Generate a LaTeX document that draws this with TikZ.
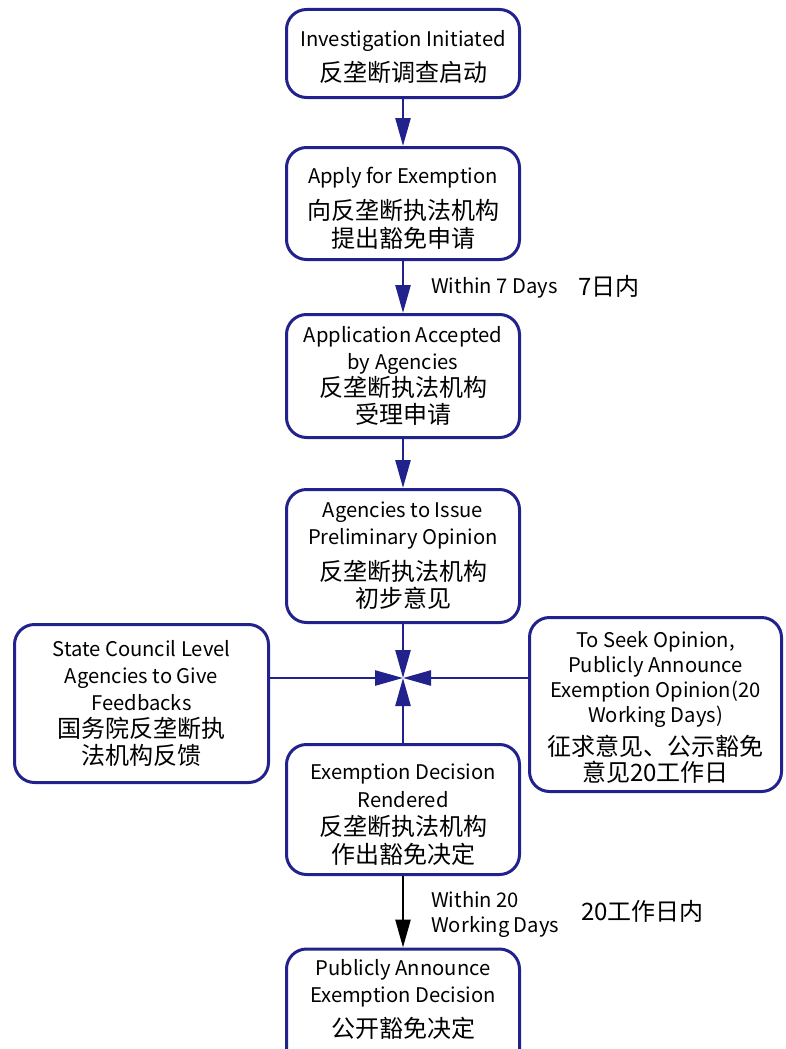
\documentclass[tikz,border=0pt]{standalone}
\usepackage{fontspec}
\setmainfont{Noto Sans CJK SC}
\usetikzlibrary{arrows.meta}
\definecolor{boxblue}{RGB}{34,34,140}
\newcommand{\zh}[1]{{\fontsize{24}{27}\selectfont #1}}
\newcommand{\toppad}[1]{\rule{0pt}{#1}}
\tikzset{
  flowbox/.style={draw=boxblue, line width=3pt, rounded corners=20pt, fill=white,
    align=center, inner sep=2pt, font=\fontsize{20.2}{27}\selectfont, text=black},
  bluearrow/.style={draw=boxblue, line width=2.6pt, -{Triangle[length=28pt,width=15pt]}},
  blackarrow/.style={draw=black, line width=2.6pt, -{Triangle[length=28pt,width=15pt]}},
  lbl/.style={font=\fontsize{20.2}{25}\selectfont, align=left, inner sep=0pt, text=black}
}
\begin{document}
\begin{tikzpicture}[x=1pt,y=-1pt]
\useasboundingbox (0,0) rectangle (785,1049);
\clip (0,0) rectangle (785,1049);

\node[flowbox, minimum width=233, minimum height=88] (n1) at (403,53.5)
  {\toppad{24pt}Investigation Initiated\\[8pt]\zh{反垄断调查启动}};
\node[flowbox, minimum width=233, minimum height=112] (n2) at (403,203.5)
  {\toppad{26pt}Apply for Exemption\\[9pt]\zh{向反垄断执法机构}\\[1pt]\zh{提出豁免申请}};
\node[flowbox, minimum width=233, minimum height=123] (n3) at (403,376)
  {Application Accepted\\by Agencies\\\zh{反垄断执法机构}\\\zh{受理申请}};
\node[flowbox, minimum width=233, minimum height=133] (n4) at (403,556)
  {Agencies to Issue\\Preliminary Opinion\\[9pt]\zh{反垄断执法机构}\\\zh{初步意见}};
\node[flowbox, minimum width=233, minimum height=130] (n5) at (403,809.5)
  {\toppad{26pt}Exemption Decision\\[1pt]Rendered\\[1pt]\zh{反垄断执法机构}\\[1pt]\zh{作出豁免决定}};
\node[flowbox, minimum width=233, minimum height=130] (n6) at (403,1014)
  {};
\node[lbl, align=center, anchor=north, font=\fontsize{20.2}{27}\selectfont] (n6t) at (403,959)
  {Publicly Announce\\Exemption Decision\\[8pt]\zh{公开豁免决定}};
\node[flowbox, minimum width=254, minimum height=158] (left) at (141.5,703.5)
  {State Council Level\\Agencies to Give\\Feedbacks\\\zh{国务院反垄断执}\\\zh{法机构反馈}};
\node[flowbox, minimum width=252, minimum height=174, font=\fontsize{20.2}{25}\selectfont] (right) at (655.5,704.5)
  {\toppad{22pt}To Seek Opinion,\\Publicly Announce\\Exemption Opinion(20\\Working Days)\\[6pt]\zh{征求意见、公示豁免}\\[1pt]\zh{意见20工作日}};

\coordinate (c) at (403,678);

\draw[bluearrow] (n1) -- (n2);
\draw[bluearrow] (n2) -- (n3);
\draw[bluearrow] (n3) -- (n4);
\draw[bluearrow] (n4) -- (c);
\draw[bluearrow] (n5) -- (c);
\draw[bluearrow] (left.east |- c) -- (c);
\draw[bluearrow] (right.west |- c) -- (c);
\draw[blackarrow] (n5) -- (n6);

\node[lbl, anchor=west] (l1) at (431,288) {Within 7 Days};
\node[lbl, anchor=west] (l1z) at (578,286) {\zh{7日内}};
\node[lbl, anchor=west] (l2) at (431,914) {Within 20\\Working Days};
\node[lbl, anchor=west] (l2z) at (581,911) {\zh{20工作日内}};
\end{tikzpicture}
\end{document}
